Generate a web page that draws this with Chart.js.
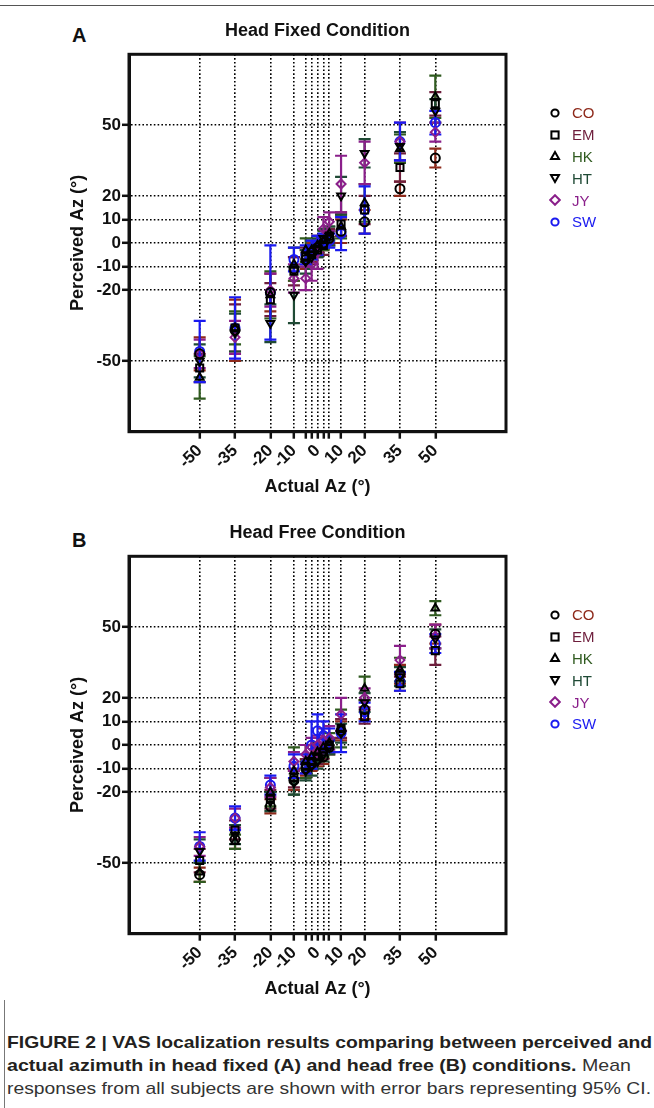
<!DOCTYPE html>
<html>
<head>
<meta charset="utf-8">
<script src="https://cdn.jsdelivr.net/npm/chart.js@4.4.0/dist/chart.umd.min.js"></script>
<style>
  body { margin: 0; background: #fff; width: 654px; height: 1108px; position: relative; overflow: hidden;
         font-family: "Liberation Sans", Arial, sans-serif; }
  .frameTop { position: absolute; left: 0; top: 5px; width: 654px; height: 1px; background: #555; }
  .frameLeft { position: absolute; left: 4px; top: 1000px; width: 1px; height: 108px; background: #777; }
  canvas { position: absolute; left: 0; }
  .letter { position: absolute; left: 72px; font-weight: bold; font-size: 20px; line-height: 20px; color: #111; }
  .legend { position: absolute; left: 549px; font-size: 15px; }
  .legend div { height: 21.8px; display: flex; align-items: center; }
  .legend svg { margin-right: 11px; }
  .caption { position: absolute; left: 7px; top: 1031px; font-size: 17px; line-height: 23px; color: #333; }
  .caption div { white-space: nowrap; transform-origin: 0 50%; width: max-content; }
  .caption b { color: #231f20; }
</style>
</head>
<body>
<div class="frameTop"></div>
<div class="frameLeft"></div>

<div class="letter" style="top:25px">A</div>
<canvas id="chartA" width="654" height="500" style="top:0"></canvas>
<div class="legend" id="legendA" style="top:102px"></div>

<div class="letter" style="top:530px">B</div>
<canvas id="chartB" width="654" height="500" style="top:502px"></canvas>
<div class="legend" id="legendB" style="top:604px"></div>

<div class="caption">
  <div><b>FIGURE 2 | VAS localization results comparing between perceived and</b></div>
  <div><b>actual azimuth in head fixed (A) and head free (B) conditions.</b> Mean</div>
  <div>responses from all subjects are shown with error bars representing 95% CI.</div>
</div>

<script>
// stimulus azimuths (x) and axis labels
const xPositions = [-50, -35, -20, -10, -5, -2.5, 0, 2.5, 5, 10, 20, 35, 50];
const xTickLabels = [-50, -35, -20, -10, 0, 10, 20, 35, 50];
const yTicks = [-50, -20, -10, 0, 10, 20, 50];

const subjects = ['CO', 'EM', 'HK', 'HT', 'JY', 'SW'];
const barColors = ['#8e2a1b', '#6e1e3c', '#2f5a1f', '#1f4a35', '#8a1f8a', '#1a1af0'];
const markerColors = ['#000', '#000', '#000', '#000', '#8a1f8a', '#1a1af0'];
const markerStyles = ['circle', 'rect', 'triangle', 'triangle', 'rectRot', 'circle'];
const markerRotation = [0, 0, 0, 180, 0, 0];

// Head fixed: mean perceived azimuth and 95% CI half width
const fixedCO = [-47, -37, -21, -11, -7, -4, -2, 0, 2, 5, 9, 23, 36];
const fixedEM = [-53, -36, -24, -12, -6, -5, -3, -1, 3, 8, 14, 32, 59];
const fixedHK = [-57, -36, -22, -9, -3, -3, -1, 1, 4, 7, 17, 40, 62];
const fixedHT = [-50, -38, -34, -22, -8, -6, -2, 2, 3, 20, 38, 41, 56];
const fixedJY = [-47, -40, -20, -15, -15, -9, -4, 6, 9, 25, 34, 43, 47];
const fixedSW = [-46, -36, -21, -7, -5, -3, -1, 1, 1, 4, 14, 43, 51];
const fixedCOci = [7, 13, 8, 5, 4, 4, 3, 3, 3, 5, 5, 3, 4];
const fixedEMci = [6, 10, 7, 6, 4, 4, 3, 4, 3, 5, 6, 6, 5];
const fixedHKci = [9, 7, 10, 7, 5, 4, 4, 4, 3, 5, 8, 6, 9];
const fixedHTci = [7, 8, 8, 12, 5, 5, 4, 4, 4, 8, 6, 6, 5];
const fixedJYci = [6, 7, 7, 6, 5, 7, 7, 5, 4, 12, 9, 8, 4];
const fixedSWci = [13, 13, 20, 5, 4, 4, 4, 3, 3, 7, 10, 8, 5];

// Head free
const freeCO = [-55, -40, -26, -15, -10, -8, -6, -5, -1, 6, 15, 30, 47];
const freeEM = [-49, -36, -23, -14, -9, -7, -5, -3, 0, 7, 12, 26, 40];
const freeHK = [-54, -41, -20, -11, -7, -5, -3, -1, 1, 7, 24, 32, 58];
const freeHT = [-45, -38, -24, -16, -11, -9, -7, -4, -1, 5, 18, 29, 45];
const freeJY = [-43, -31, -18, -7, -4, -1, 0, 2, 3, 13, 20, 36, 46];
const freeSW = [-43, -31, -17, -9, -8, 0, 6, 4, 2, 5, 14, 27, 43];
const freeCOci = [3, 4, 3, 4, 3, 3, 3, 3, 3, 4, 4, 4, 4];
const freeEMci = [5, 4, 4, 4, 3, 3, 3, 3, 3, 4, 3, 3, 6];
const freeHKci = [4, 3, 6, 10, 7, 5, 4, 4, 4, 8, 5, 5, 3];
const freeHTci = [5, 4, 4, 5, 4, 4, 3, 3, 3, 4, 4, 4, 4];
const freeJYci = [4, 4, 4, 4, 4, 4, 4, 5, 5, 7, 4, 6, 5];
const freeSWci = [6, 5, 4, 5, 4, 10, 7, 6, 5, 8, 4, 4, 4];

const ink = '#111';

// vertical 95% CI bars with caps, under the markers
const errorBars = {
  id: 'errorBars',
  beforeDatasetsDraw(chart) {
    const { ctx, scales: { x, y } } = chart;
    ctx.save();
    ctx.lineWidth = 2.2;
    chart.data.datasets.forEach(ds => {
      ctx.strokeStyle = ds.barColor;
      ds.data.forEach((p, i) => {
        const px = x.getPixelForValue(p.x);
        const top = y.getPixelForValue(p.y + ds.errors[i]);
        const bot = y.getPixelForValue(p.y - ds.errors[i]);
        ctx.beginPath();
        ctx.moveTo(px, top); ctx.lineTo(px, bot);
        ctx.moveTo(px - 6, top); ctx.lineTo(px + 6, top);
        ctx.moveTo(px - 6, bot); ctx.lineTo(px + 6, bot);
        ctx.stroke();
      });
    });
    ctx.restore();
  }
};

// closed box round the plot
const plotFrame = {
  id: 'plotFrame',
  afterDatasetsDraw(chart) {
    const { ctx, chartArea: a } = chart;
    ctx.save();
    ctx.strokeStyle = ink;
    ctx.lineWidth = 3;
    ctx.strokeRect(a.left, a.top, a.right - a.left, a.bottom - a.top);
    ctx.restore();
  }
};

function axis(titleText, titlePadding) {
  return {
    type: 'linear', min: -80, max: 80,
    grid: { color: '#000', lineWidth: 1.6, tickLength: 7, tickWidth: 2.5, tickColor: ink },
    border: { display: true, color: ink, width: 3, dash: [1.6, 2.2] },
    ticks: { color: ink, font: { size: 17, weight: 'bold' }, padding: 1 },
    title: { display: true, text: titleText, color: ink, font: { size: 18, weight: 'bold' }, padding: titlePadding }
  };
}

function makeChart(id, titleText, means, cis) {
  const datasets = subjects.map((name, k) => ({
    label: name,
    data: xPositions.map((x, i) => ({ x: x, y: means[k][i] })),
    errors: cis[k],
    barColor: barColors[k],
    showLine: false,
    pointStyle: markerStyles[k],
    pointRotation: markerRotation[k],
    pointRadius: markerStyles[k] === 'rect' ? 5 : 4.5,
    pointBorderWidth: 2,
    pointBorderColor: markerColors[k],
    pointBackgroundColor: 'rgba(0,0,0,0)'
  }));

  const xScale = axis('Actual Az (°)', { top: 0, bottom: 2.5 });
  xScale.afterBuildTicks = s => { s.ticks = xPositions.map(v => ({ value: v })); };
  xScale.afterFit = s => { s.height = 68.3; };
  xScale.ticks.autoSkip = false;
  xScale.ticks.minRotation = 45;
  xScale.ticks.maxRotation = 45;
  xScale.ticks.padding = 2;
  xScale.ticks.callback = v => xTickLabels.includes(v) ? String(v) : '';

  const yScale = axis('Perceived Az (°)', { top: 67, bottom: 0 });
  yScale.afterBuildTicks = s => { s.ticks = yTicks.map(v => ({ value: v })); };
  yScale.afterFit = s => { s.width = 129; };

  return new Chart(document.getElementById(id), {
    type: 'scatter',
    data: { datasets: datasets },
    options: {
      responsive: false,
      animation: false,
      layout: { padding: { left: 0, right: 148, top: 0, bottom: 0 } },
      scales: { x: xScale, y: yScale },
      plugins: {
        legend: { display: false },
        tooltip: { enabled: false },
        title: {
          display: true, text: titleText, fullSize: false, color: ink,
          font: { size: 18, weight: 'bold' }, padding: { top: 19.8, bottom: 12.9 }
        }
      }
    },
    plugins: [errorBars, plotFrame]
  });
}

function markerSvg(k) {
  const c = markerColors[k];
  let shape;
  if (markerStyles[k] === 'circle') shape = `<circle cx="6" cy="6" r="3.6" fill="none" stroke="${c}" stroke-width="2"/>`;
  else if (markerStyles[k] === 'rect') shape = `<rect x="2.4" y="2.4" width="7.2" height="7.2" fill="none" stroke="${c}" stroke-width="2"/>`;
  else if (markerStyles[k] === 'rectRot') shape = `<polygon points="6,1.2 10.8,6 6,10.8 1.2,6" fill="none" stroke="${c}" stroke-width="2"/>`;
  else if (markerRotation[k] === 180) shape = `<polygon points="2,3 10,3 6,10" fill="none" stroke="${c}" stroke-width="2"/>`;
  else shape = `<polygon points="6,2 10,9 2,9" fill="none" stroke="${c}" stroke-width="2"/>`;
  return `<svg width="12" height="12">${shape}</svg>`;
}

function fillLegend(id) {
  document.getElementById(id).innerHTML = subjects.map((name, k) =>
    `<div>${markerSvg(k)}<span style="color:${barColors[k]}">${name}</span></div>`).join('');
}

makeChart('chartA', 'Head Fixed Condition',
  [fixedCO, fixedEM, fixedHK, fixedHT, fixedJY, fixedSW],
  [fixedCOci, fixedEMci, fixedHKci, fixedHTci, fixedJYci, fixedSWci]);
makeChart('chartB', 'Head Free Condition',
  [freeCO, freeEM, freeHK, freeHT, freeJY, freeSW],
  [freeCOci, freeEMci, freeHKci, freeHTci, freeJYci, freeSWci]);
fillLegend('legendA');
fillLegend('legendB');

// stretch caption lines to the measured widths of the figure
const captionWidths = [645, 624, 644];
document.querySelectorAll('.caption div').forEach((line, i) => {
  const w = line.getBoundingClientRect().width;
  line.style.transform = `scaleX(${captionWidths[i] / w})`;
});
</script>
</body>
</html>
